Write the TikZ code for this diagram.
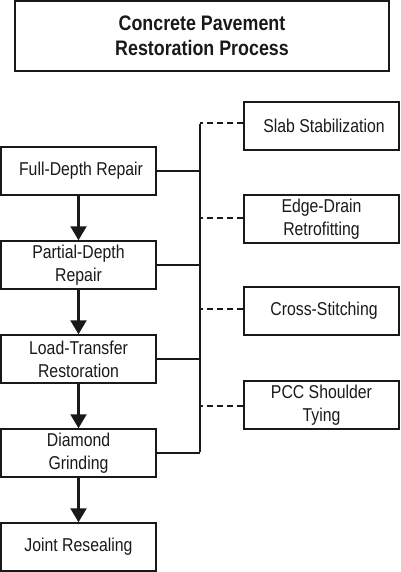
\documentclass[tikz,border=0pt]{standalone}
\usepackage{fontspec}
\setmainfont{Liberation Sans}[FakeStretch=0.85]
\usetikzlibrary{arrows.meta}
\definecolor{ink}{rgb}{0.1,0.1,0.1}
\begin{document}
\begin{tikzpicture}[x=1pt,y=-1pt,
  every node/.style={font=\fontsize{18.6}{22.7}\selectfont, text=ink},
  titlebox/.style={draw=ink, line width=1.5pt, minimum width=374pt, minimum height=70pt, inner sep=0pt, align=center, font=\fontsize{21}{25}\selectfont\bfseries},
  leftbox/.style={draw=ink, line width=1.5pt, minimum width=155pt, minimum height=48pt, inner sep=0pt, align=center},
  rightbox/.style={draw=ink, line width=1.5pt, minimum width=155pt, minimum height=48pt, inner sep=0pt, align=center},
  flow/.style={draw=ink, line width=2.2pt, -{Triangle[width=16pt,length=14pt]}},
  busline/.style={draw=ink, line width=2.2pt},
  dashline/.style={draw=ink, line width=2.2pt, dash pattern=on 6.3pt off 3.7pt}
]
\useasboundingbox (0,0) rectangle (400,572);
\node[titlebox] (title) at (202,36) {Concrete Pavement\\Restoration Process};

\node[leftbox] (fdr) at (78.5,171) {\hspace*{5pt}Full-Depth Repair};
\node[leftbox] (pdr) at (78.5,265) {Partial-Depth\\Repair};
\node[leftbox] (ltr) at (78.5,359) {Load-Transfer\\Restoration};
\node[leftbox] (dg)  at (78.5,453) {Diamond\\Grinding};
\node[leftbox] (jr)  at (78.5,547) {Joint Resealing};

\node[rightbox] (ss)  at (321.5,126) {\hspace*{5pt}Slab Stabilization};
\node[rightbox] (edr) at (321.5,219) {Edge-Drain\\Retrofitting};
\node[rightbox] (cs)  at (321.5,311) {\hspace*{5pt}Cross-Stitching};
\node[rightbox] (pcc) at (321.5,405) {PCC Shoulder\\Tying};

\coordinate (b1) at (200,123);
\coordinate (b2) at (200,218);
\coordinate (b3) at (200,309);
\coordinate (b4) at (200,406);
\coordinate (bbot) at (200,453);

\draw[flow] (fdr) -- (pdr);
\draw[flow] (pdr) -- (ltr);
\draw[flow] (ltr) -- (dg);
\draw[flow] (dg) -- (jr);

\draw[busline] ([yshift=-1.1pt]b1) -- ([yshift=1.1pt]bbot);
\draw[busline] (fdr.east) -- (fdr.east -| b1);
\draw[busline] (pdr.east) -- (pdr.east -| b1);
\draw[busline] (ltr.east) -- (ltr.east -| b1);
\draw[busline] (dg.east) -- (bbot);

\draw[dashline] (b1 -| ss.west) -- (b1);
\draw[dashline] (b2 -| edr.west) -- (b2);
\draw[dashline] (b3 -| cs.west) -- (b3);
\draw[dashline] (b4 -| pcc.west) -- (b4);
\end{tikzpicture}
\end{document}
